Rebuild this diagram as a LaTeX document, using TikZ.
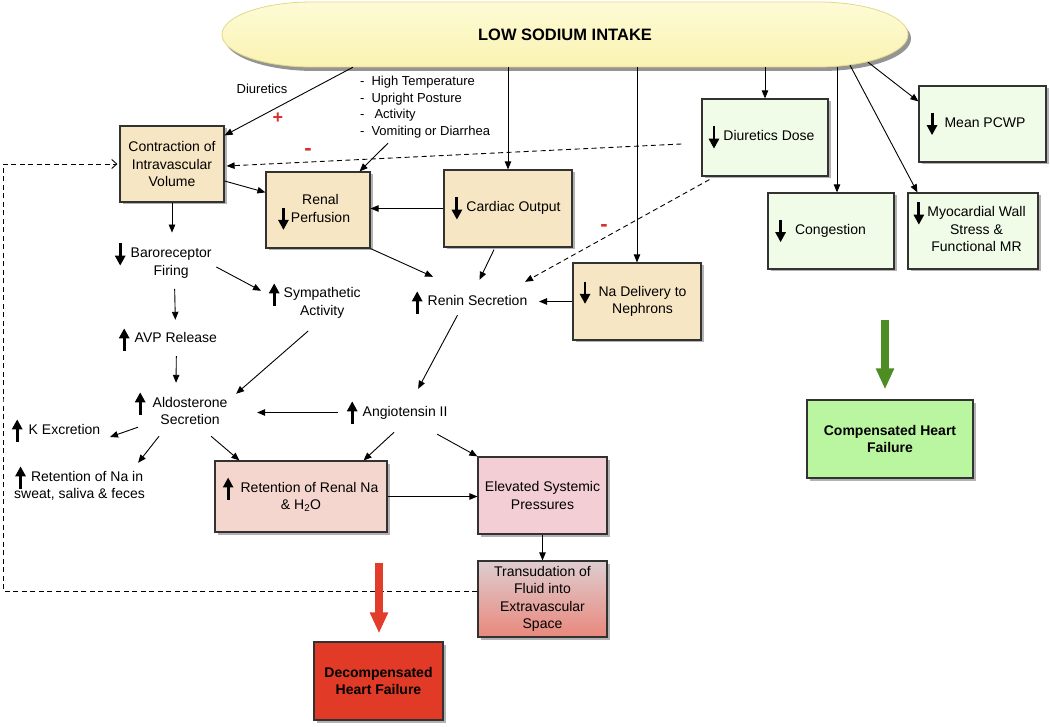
\documentclass[tikz,border=0pt]{standalone}
\usepackage{fontspec}
\setmainfont{Liberation Sans}
\usetikzlibrary{arrows.meta,shadows,calc}
\definecolor{tanfill}{RGB}{247,230,195}
\definecolor{mintfill}{RGB}{240,251,232}
\definecolor{compfill}{RGB}{186,245,160}
\definecolor{rosefill}{RGB}{245,214,206}
\definecolor{pinkfill}{RGB}{243,206,213}
\definecolor{transtop}{RGB}{222,205,208}
\definecolor{transbot}{RGB}{233,136,124}
\definecolor{decompfill}{RGB}{225,58,38}
\definecolor{signred}{RGB}{216,48,42}
\definecolor{bigred}{RGB}{226,60,42}
\definecolor{biggreen}{RGB}{78,140,36}
\definecolor{pilltop}{RGB}{253,251,214}
\definecolor{pillbot}{RGB}{250,243,178}
\definecolor{pilledge}{RGB}{226,216,140}
\definecolor{boxline}{RGB}{50,50,50}
\newcommand{\bodysize}{\fontsize{14}{17.5}\selectfont}
\newcommand{\listsize}{\fontsize{13}{16.5}\selectfont}
\newcommand{\uparr}{\tikz[baseline=0pt]{\useasboundingbox (-4.5pt,-4pt) rectangle (4.5pt,11pt); \draw[line width=2.9pt,-{Triangle[length=10pt,width=10pt]}] (0pt,-7.7pt) -- (0pt,14.7pt);}}
\newcommand{\dnarr}{\tikz[baseline=0pt]{\useasboundingbox (-4.5pt,-4pt) rectangle (4.5pt,11pt); \draw[line width=2.9pt,-{Triangle[length=10pt,width=10pt]}] (0pt,14.7pt) -- (0pt,-7.7pt);}}

\begin{document}
\begin{tikzpicture}[
x=1pt, y=-1pt,
box/.style={draw=boxline, line width=1.2pt, minimum width=128pt, minimum height=77pt, align=center, inner sep=2pt, font=\bodysize, drop shadow={shadow xshift=2.5pt, shadow yshift=-2.5pt, opacity=0.5, fill=black!60}},
lbl/.style={font=\bodysize, inner sep=0pt, anchor=base west},
arrow/.style={-{Triangle[length=8pt,width=6.5pt]}, line width=0.9pt},
dasharrow/.style={arrow, dash pattern=on 5pt off 3.5pt},
dashline/.style={line width=0.9pt, dash pattern=on 5pt off 3.5pt},
plussign/.style={text=signred, font=\bfseries\fontsize{18}{18}\selectfont, inner sep=0pt},
minussign/.style={text=signred, font=\bfseries\fontsize{22}{22}\selectfont, inner sep=0pt},
bigarrow/.style={line width=8pt, -{Triangle[length=21pt,width=17pt]}}
]
\useasboundingbox (0,0) rectangle (1050,727);

\path[draw=pilledge, line width=0.8pt, top color=pilltop, bottom color=pillbot, drop shadow={shadow xshift=3pt, shadow yshift=-4pt, opacity=0.6, fill=black!70}]
  (312,2) -- (818,2) arc[start angle=-90, end angle=90, x radius=90, y radius=32.5]
  -- (312,67) arc[start angle=90, end angle=270, x radius=90, y radius=32.5] -- cycle;
\node[font=\bfseries\fontsize{16.5}{19}\selectfont, inner sep=0pt, minimum width=686pt, minimum height=65pt] (pill) at (565,34.5) {LOW SODIUM INTAKE};

\node[box, fill=tanfill, minimum width=104pt, minimum height=76pt] (contr) at (172,164) {Contraction of\\Intravascular\\Volume};
\node[box, fill=tanfill, minimum width=104pt, minimum height=76pt] (renal) at (318,210) {\dnarr\hspace{3pt}\begin{tabular}[b]{@{}c@{}}Renal\\Perfusion\end{tabular}\hspace*{7pt}};
\node[box, fill=tanfill] (cardiac) at (508,208.5) {\dnarr\hspace{5pt}Cardiac Output\hspace*{3pt}};
\node[box, fill=tanfill] (nadel) at (637,301.5) {\dnarr\hspace{9pt}\begin{tabular}[t]{@{}c@{}}Na Delivery to\\Nephrons\end{tabular}\hspace*{7pt}};
\node[box, fill=mintfill, minimum width=126pt] (ddose) at (765,137.5) {\dnarr\hspace{5pt}Diuretics Dose\hspace*{6pt}};
\node[box, fill=mintfill, minimum width=127pt, minimum height=76pt] (pcwp) at (982.5,124) {\dnarr\hspace{8pt}Mean PCWP\hspace*{12pt}};
\node[box, fill=mintfill, minimum width=126pt, minimum height=76pt] (cong) at (831,231) {\dnarr\hspace{10pt}Congestion\hspace*{20pt}};
\node[box, fill=mintfill, minimum width=130pt, minimum height=76pt] (myo) at (973,231) {\dnarr\hspace{4pt}\begin{tabular}[t]{@{}c@{}}Myocardial Wall\\Stress \&\\Functional MR\end{tabular}\hspace*{6pt}};
\node[box, fill=compfill, minimum width=166pt, minimum height=78pt, font=\bodysize\bfseries] (comp) at (890,439) {Compensated Heart\\Failure};
\node[box, fill=rosefill, minimum width=172pt, minimum height=71pt] (retren) at (301,496.5) {\uparr\hspace{8pt}Retention of Renal Na\\\& H\textsubscript{2}O};
\node[box, fill=pinkfill, minimum width=129pt] (elev) at (542.5,495.5) {Elevated Systemic\\Pressures};
\node[box, top color=transtop, bottom color=transbot, minimum width=129pt, minimum height=76pt] (trans) at (542.5,599) {Transudation of\\Fluid into\\Extravascular\\Space};
\node[box, fill=decompfill, minimum width=129pt, minimum height=78pt, font=\bodysize\bfseries] (decomp) at (378.5,681) {Decompensated\\Heart Failure};

\node[lbl] (baro) at (115.5,258) {\dnarr\hspace{6pt}\begin{tabular}[t]{@{}c@{}}Baroreceptor\\Firing\end{tabular}};
\node[lbl] (sym) at (269.5,298) {\uparr\hspace{5pt}\begin{tabular}[t]{@{}c@{}}Sympathetic\\Activity\end{tabular}};
\node[lbl] (avp) at (119.5,343) {\uparr\hspace{6pt}AVP Release};
\node[lbl] (aldo) at (135.5,407) {\uparr\hspace{8pt}\begin{tabular}[t]{@{}c@{}}Aldosterone\\Secretion\end{tabular}};
\node[lbl] (kex) at (12.5,434) {\uparr\hspace{7pt}K Excretion};
\node[lbl] (retna) at (14,481) {\begin{tabular}[t]{@{}c@{}}\uparr\hspace{6pt}Retention of Na in\\sweat, saliva \& feces\end{tabular}};
\node[lbl] (renin) at (412.5,306) {\uparr\hspace{6pt}Renin Secretion};
\node[lbl] (angio) at (347.5,416) {\uparr\hspace{6pt}Angiotensin II};

\node[font=\listsize, inner sep=0pt] (diur) at (262,88.5) {Diuretics};
\node[font=\listsize, inner sep=0pt, anchor=base west] (causes) at (360,86) {\begin{tabular}[t]{@{}l@{}}-\hspace{7pt}High Temperature\\-\hspace{7pt}Upright Posture\\-\hspace{10pt}Activity\\-\hspace{7pt}Vomiting or Diarrhea\end{tabular}};
\node[plussign] (plus) at (278,118) {+};
\node[minussign] (minusa) at (308,152) {-};
\node[minussign] (minusb) at (604,228) {-};

\draw[arrow] ($(pill.south)+(-212,0)$) -- ($(contr.north east)+(0,10)$);
\draw[arrow] ($(causes.south west)+(28,2.5)$) -- ($(renal.north east)+(-11,0)$);
\draw[arrow] (pill.south -| cardiac.north) -- (cardiac.north);
\draw[arrow] (pill.south -| nadel.north) -- (nadel.north);
\draw[arrow] (pill.south -| ddose.north) -- (ddose.north);
\draw[arrow] ($(pill.south -| cong.north)+(6,0)$) -- ($(cong.north)+(6,0)$);
\draw[arrow] ($(pill.south)+(285,-2)$) -- ($(myo.north west)+(10,0)$);
\draw[arrow] ($(pill.south)+(303,-5)$) -- ($(pcwp.north west)+(0,16)$);
\draw[arrow] ($(contr.east)+(0,17)$) -- ($(renal.north west)+(0,21)$);
\draw[arrow, shorten >=13pt] (contr.south) -- (contr.south |- baro.north);
\draw[arrow] (cardiac.west) -- (cardiac.west -| renal.east);
\draw[arrow] ($(baro.east)+(4.5,3.75)$) -- ($(sym.north west)+(-8.5,5.25)$);
\draw[arrow] ($(baro.south)+(11,8)$) -- ($(avp.north)+(7,-12)$);
\draw[arrow] ($(avp.south)+(8,9)$) -- ($(aldo.north)+(-5.5,-11.75)$);
\draw[arrow] ($(sym.south)+(-7,10)$) -- ($(aldo.north east)+(8.5,-0.75)$);
\draw[arrow, shorten <=9.5pt, shorten >=29.5pt] (angio.west) -- (angio.west -| aldo.east);
\draw[arrow] ($(aldo.south west)+(2.5,-2.75)$) -- ($(kex.east)+(9.5,6.5)$);
\draw[arrow] ($(aldo.south)+(-22.5,6.25)$) -- ($(retna.north east)+(-7,-5.75)$);
\draw[arrow] ($(aldo.south)+(29.5,6.25)$) -- ($(retren.north west)+(25,0)$);
\draw[arrow] ($(angio.south)+(-3.5,12)$) -- ($(retren.north east)+(-24,0)$);
\draw[arrow] ($(angio.south east)+(-10.5,14)$) -- (elev.north west);
\draw[arrow] (retren.east) -- (retren.east -| elev.west);
\draw[arrow] (elev.south) -- (trans.north);
\draw[arrow] (renal.south east) -- ($(renin.north west)+(20.5,-18)$);
\draw[arrow] ($(cardiac.south)+(-14,2)$) -- ($(renin.north)+(9.5,-15)$);
\draw[dasharrow] ($(ddose.south west)+(8,3)$) -- ($(renin.north east)+(-2.5,-13)$);
\draw[arrow, shorten >=11.5pt] (nadel.west) -- (nadel.west -| renin.east);
\draw[arrow] ($(renin.south)+(-12.5,5)$) -- ($(angio.north)+(20.5,-16)$);
\draw[dasharrow] ($(ddose.west)+(-20,6.5)$) -- ($(contr.east)+(2,2)$);
\coordinate (fbcorner) at (3,400);
\draw[dashline, -{Straight Barb[length=5pt,width=9pt]}, shorten >=2pt] ($(trans.west)+(0,-8)$) -| (fbcorner) |- (contr.west);

\coordinate (redtop) at (379,563);
\coordinate (greentop) at (885,320);
\draw[bigarrow, draw=bigred, shorten >=8pt] (redtop) -- (redtop |- decomp.north);
\draw[bigarrow, draw=biggreen, shorten >=10pt] (greentop) -- (greentop |- comp.north);
\end{tikzpicture}
\end{document}
